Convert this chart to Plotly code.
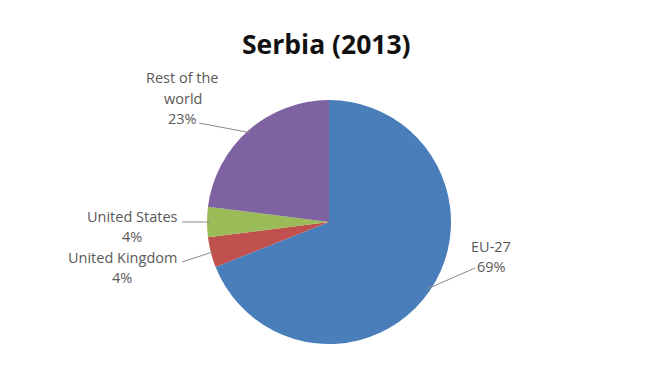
import math
import plotly.graph_objects as go

# Export destinations of Serbia, 2013 (share of total, %)
labels = ["EU-27", "United Kingdom", "United States", "Rest of the world"]
values = [69, 4, 4, 23]
colors = ["#4a7ebb", "#c0504d", "#9bbb59", "#7f62a1"]
title_text = "Serbia (2013)"

W, H = 649, 376
CX, CY, R = 329, 222, 122  # pie centre and radius in pixels (from top-left)


def to_paper(x, y):
    return x / W, 1 - y / H


fig = go.Figure(
    go.Pie(
        labels=labels,
        values=values,
        sort=False,
        direction="clockwise",
        rotation=0,
        marker=dict(colors=colors, line=dict(width=0)),
        textinfo="none",
        hoverinfo="label+percent",
        showlegend=False,
        domain=dict(
            x=[(CX - R) / W, (CX + R) / W],
            y=[(H - CY - R) / H, (H - CY + R) / H],
        ),
    )
)

# Label blocks: text lines, block centre x, first-line y, leader start point
label_layout = {
    "Rest of the world": (["Rest of the", "world"], 183, 78, (199, 123)),
    "United States": (["United States"], 132, 216, (182, 222)),
    "United Kingdom": (["United Kingdom"], 122, 257, (182, 262)),
    "EU-27": (["EU-27"], 491, 246, (475, 268)),
}

total = sum(values)
cum = 0
annotations = []
shapes = []
for lab, val in zip(labels, values):
    mid = (cum + val / 2) / total * 2 * math.pi
    cum += val
    lines, tx, ty, (sx, sy) = label_layout[lab]
    lines = lines + [f"{round(val / total * 100)}%"]
    for i, line in enumerate(lines):
        px, py = to_paper(tx, ty + i * 20)
        annotations.append(
            dict(
                x=px, y=py, xref="paper", yref="paper",
                text=line, showarrow=False,
                xanchor="center", yanchor="middle",
                font=dict(family="Open Sans", size=14.5, color="#595959"),
            )
        )
    # leader line from the label to the slice edge at its mid angle
    ex = CX + (R - 3) * math.sin(mid)
    ey = CY - (R - 3) * math.cos(mid)
    x0, y0 = to_paper(sx, sy)
    x1, y1 = to_paper(ex, ey)
    shapes.append(
        dict(type="line", xref="paper", yref="paper",
             x0=x0, y0=y0, x1=x1, y1=y1,
             line=dict(color="#8a8a8a", width=1))
    )

tx, ty = to_paper(326, 44)
annotations.append(
    dict(
        x=tx, y=ty, xref="paper", yref="paper",
        text=f"<b>{title_text}</b>", showarrow=False,
        xanchor="center", yanchor="middle",
        font=dict(family="Open Sans", size=26.5, color="#111111"),
    )
)

fig.update_layout(
    width=W, height=H,
    margin=dict(l=0, r=0, t=0, b=0),
    paper_bgcolor="white",
    plot_bgcolor="white",
    annotations=annotations,
    shapes=shapes,
)

fig.write_html("out.html")
